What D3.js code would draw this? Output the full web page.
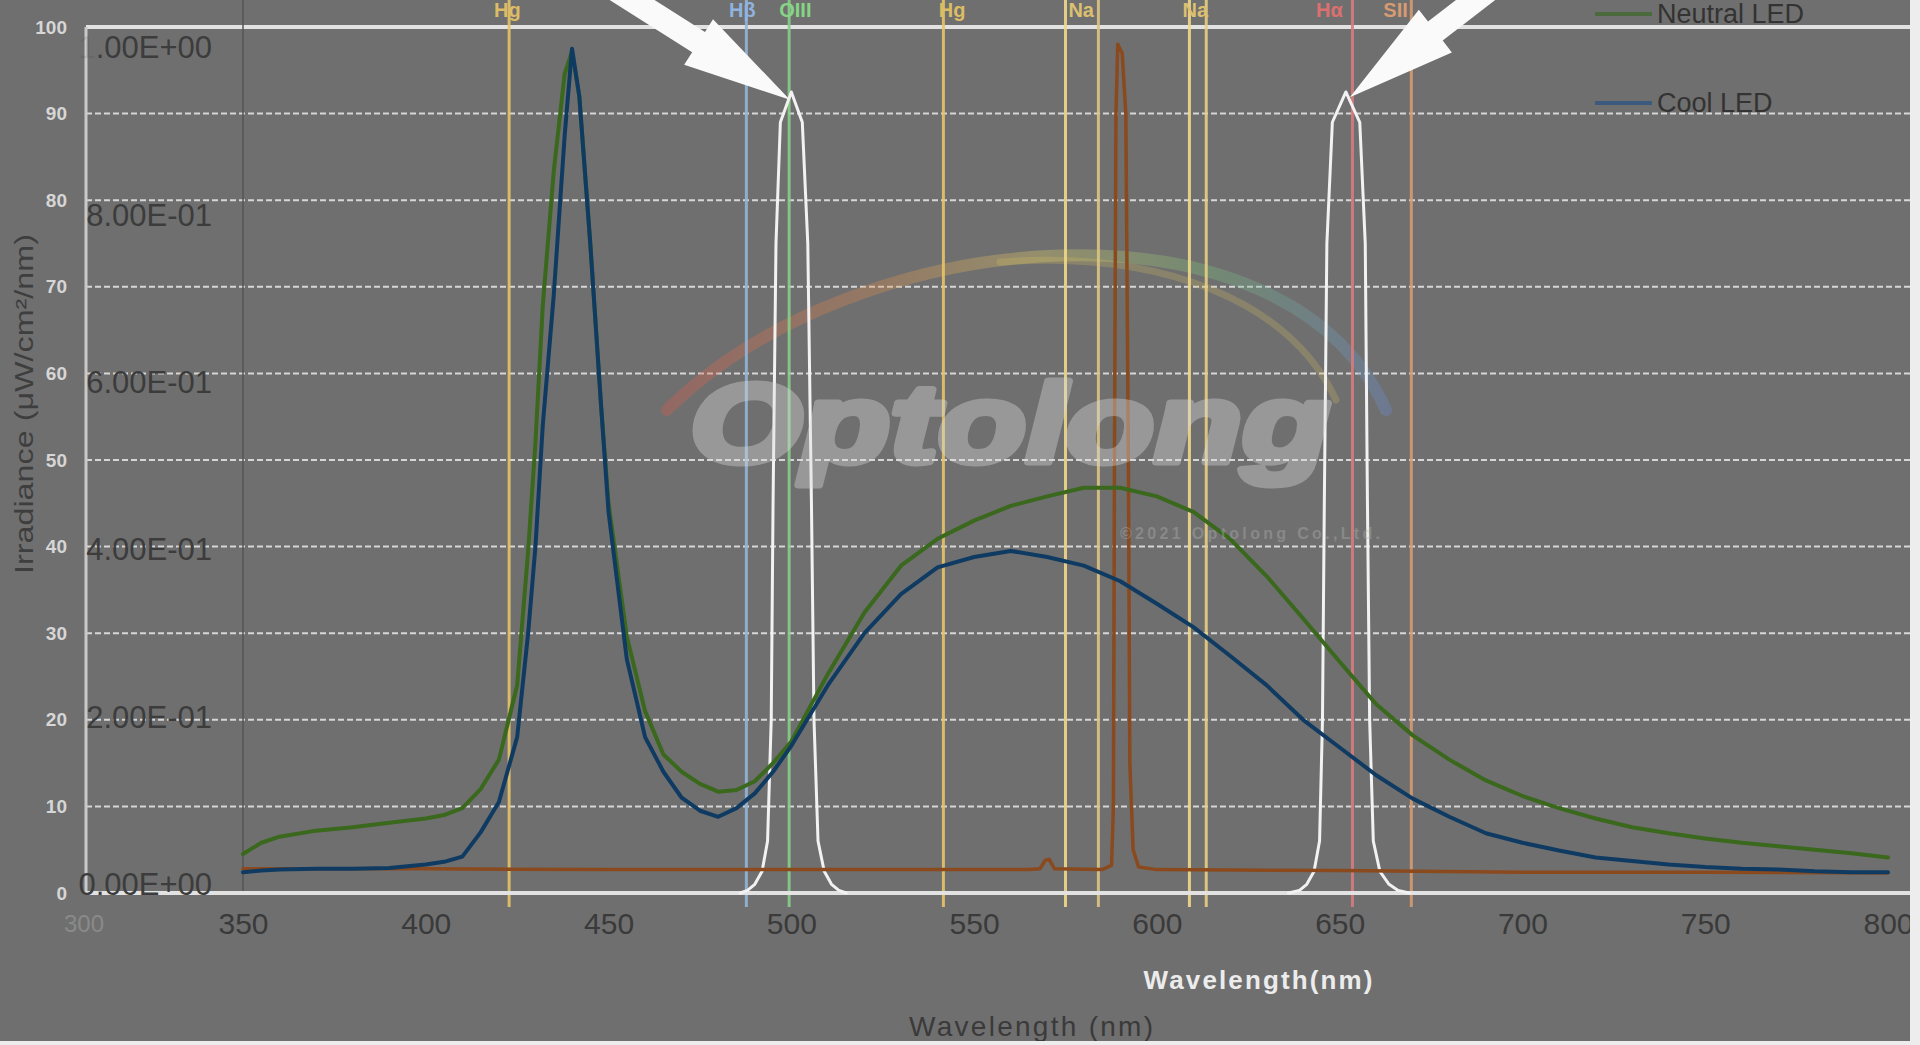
<!DOCTYPE html>
<html>
<head>
<meta charset="utf-8">
<script src="https://cdn.jsdelivr.net/npm/d3@7"></script>
<style>
    body { margin: 0; background: #6f6f6f; }
    svg { display: block; }
    text { font-family: 'Liberation Sans', Arial, sans-serif; }
</style>
</head>
<body>
<div id="chart"></div>
<script>
// spectra (irradiance, 0-100 scale)
var ledNm = [350, 355, 360, 370, 380, 390, 400, 405, 410, 415, 420, 425, 428, 430, 432, 435, 438, 440, 442, 445,
    448, 450, 455, 460, 465, 470, 475, 480, 485, 490, 495, 500, 510, 520, 530, 540, 550, 560, 570, 580,
    590, 600, 610, 620, 630, 640, 650, 660, 670, 680, 690, 700, 710, 720, 730, 740, 750, 760, 770, 780, 790, 800];
var coolLed = [2.4, 2.6, 2.7, 2.8, 2.8, 2.9, 3.3, 3.6, 4.2, 7, 10.5, 18, 30, 40, 54, 69, 87.5, 97.5, 92, 75,
    56, 44, 27, 18, 14, 11, 9.5, 8.8, 9.8, 11.5, 14, 17, 24, 30, 34.5, 37.6, 38.8, 39.5, 38.8, 37.8,
    36, 33.4, 30.7, 27.4, 24, 20, 16.8, 13.6, 10.9, 8.8, 6.9, 5.8, 4.9, 4.1, 3.7, 3.3, 3.0, 2.8, 2.7, 2.5, 2.4, 2.4];
var neutralLed = [4.5, 5.8, 6.5, 7.2, 7.6, 8.1, 8.6, 9, 9.8, 12, 15.4, 24, 39.5, 52, 67.8, 83.3, 94.6, 97.2, 92, 75,
    56, 45, 29.6, 21, 16, 14, 12.6, 11.7, 11.9, 12.9, 15, 17.5, 25.3, 32.4, 37.8, 40.9, 43, 44.7, 45.8, 46.8,
    46.8, 45.8, 44, 40.9, 36.6, 31.7, 26.7, 21.8, 18.2, 15.4, 13, 11.2, 9.8, 8.6, 7.6, 6.9, 6.3, 5.8, 5.4, 5.0, 4.6, 4.1];

// brown lamp trace with the sodium spike
var lampNm = [350, 400, 450, 500, 550, 565, 568, 569.5, 570.5, 572, 585, 587.6, 588.1, 588.4, 588.8, 589.3,
    590.5, 591.5, 592.2, 592.6, 593.5, 595, 600, 650, 700, 750, 800];
var lampVal = [2.8, 2.8, 2.7, 2.7, 2.7, 2.7, 2.8, 3.8, 3.9, 2.8, 2.7, 3.2, 10, 50, 90, 98,
    97, 90, 50, 15, 5, 3, 2.7, 2.6, 2.4, 2.4, 2.3];

// white filter pass bands
var oiiiNm = [486, 488, 490, 492, 493.5, 494.5, 495, 495.8, 497, 500, 503, 504.5, 505.5, 506.2, 507.3, 509, 511, 513, 515];
var oiiiVal = [0, 0.3, 1, 2.5, 6, 20, 45, 75, 89, 92.5, 89, 75, 45, 20, 6, 2.5, 1, 0.3, 0];
var haNm = [636, 639, 641, 643, 644.5, 645.3, 645.8, 646.5, 648, 651.7, 655.5, 657, 657.6, 658.2, 659.2, 661, 663.5, 666, 669];
var haVal = [0, 0.3, 1, 2.5, 6, 20, 45, 75, 89, 92.5, 89, 75, 45, 20, 6, 2.5, 1, 0.3, 0];

// emission line markers
var markerNm = [422.8, 487.7, 499.4, 541.6, 575.0, 584.0, 608.9, 613.5, 653.5, 669.6];
var markerColor = ['#e6c468', '#93b5d8', '#88cf88', '#e6c468', '#f0d88a', '#dcc585', '#f0d88a', '#e8cf82', '#d87c7c', '#d49c72'];
var labelText = ['Hg', 'Hβ', 'OIII', 'Hg', 'Na', 'Na', 'Hα', 'SII'];
var labelNm = [422.3, 486.6, 501.1, 544.0, 579.3, 610.5, 647.2, 665.3];
var labelColor = ['#dcbc64', '#8fb2de', '#86d486', '#dcbc64', '#dcc070', '#dcc070', '#de6f6f', '#d89a70'];

var yTicks = [0, 10, 20, 30, 40, 50, 60, 70, 80, 90, 100];
var xTicks = [350, 400, 450, 500, 550, 600, 650, 700, 750, 800];
var transTicks = [1, 0.8, 0.6, 0.4, 0.2, 0];
var transLabels = ['1.00E+00', '8.00E-01', '6.00E-01', '4.00E-01', '2.00E-01', '0.00E+00'];

var arrowTipNm = [499.6, 652.8];
var arrowTipVal = [91.6, 91.9];
var arrowAngle = [212.3, -37.7];

var legendNames = ['Neutral LED', 'Cool LED'];
var legendColors = ['#4a6a3c', '#3c5a7e'];

var width = 1920;
var height = 1045;
var frame = { left: 86, right: 1910, top: 27, bottom: 893 };

var x = d3.scaleLinear().domain([350, 800]).range([243, 1888]);
var y = d3.scaleLinear().domain([0, 100]).range([frame.bottom, frame.top]);
var yTrans = d3.scaleLinear().domain([0, 1]).range([884, 47]);

var svg = d3.select('#chart')
    .append('svg')
    .attr('width', width)
    .attr('height', height)
    .attr('viewBox', [0, 0, width, height]);

svg.append('rect')
    .attr('width', width).attr('height', height)
    .attr('fill', '#6f6f6f');

// dashed grid
svg.append('g')
    .selectAll('line')
    .data(yTicks.filter(d => d > 0 && d < 100))
    .join('line')
    .attr('x1', frame.left).attr('x2', frame.right)
    .attr('y1', d => y(d)).attr('y2', d => y(d))
    .attr('stroke', '#d6d6d6')
    .attr('stroke-width', 2)
    .attr('stroke-dasharray', '6,3');

// frame of the overlaid filter chart
svg.append('line')
    .attr('x1', frame.left).attr('x2', frame.right)
    .attr('y1', y(100)).attr('y2', y(100))
    .attr('stroke', '#e2e2e2').attr('stroke-width', 4);
svg.append('line')
    .attr('x1', frame.left).attr('x2', frame.left)
    .attr('y1', y(100)).attr('y2', y(0))
    .attr('stroke', '#c9c9c9').attr('stroke-width', 3);

// old axis line at 350
svg.append('line')
    .attr('x1', x(350)).attr('x2', x(350))
    .attr('y1', 0).attr('y2', y(0))
    .attr('stroke', '#555').attr('stroke-width', 1.5);

// watermark, under the traces
var defs = svg.append('defs');
var grad = defs.append('linearGradient')
    .attr('id', 'rainbow')
    .attr('x1', '0%').attr('x2', '100%');
[['0%', '#e05a4a'], ['30%', '#e0904e'], ['52%', '#e6d268'], ['75%', '#7cc47a'], ['100%', '#6a8ed6']]
    .forEach(s => grad.append('stop').attr('offset', s[0]).attr('stop-color', s[1]));

svg.append('path')
    .attr('d', 'M667,410 C857,222 1286,186 1386,410')
    .attr('fill', 'none')
    .attr('stroke', 'url(#rainbow)')
    .attr('stroke-width', 12)
    .attr('stroke-linecap', 'round')
    .attr('opacity', 0.32);
svg.append('path')
    .attr('d', 'M1000,262 C1160,250 1290,300 1336,400')
    .attr('fill', 'none')
    .attr('stroke', '#d8c060')
    .attr('stroke-width', 7)
    .attr('stroke-linecap', 'round')
    .attr('opacity', 0.25);

// emission lines
svg.append('g')
    .selectAll('line')
    .data(markerNm)
    .join('line')
    .attr('x1', d => x(d)).attr('x2', d => x(d))
    .attr('y1', 0).attr('y2', y(0) + 14)
    .attr('stroke', (d, i) => markerColor[i])
    .attr('stroke-width', 3)
    .attr('opacity', 0.9);

svg.append('g')
    .selectAll('text')
    .data(labelText)
    .join('text')
    .attr('x', (d, i) => x(labelNm[i]))
    .attr('y', 17)
    .attr('text-anchor', 'middle')
    .attr('font-size', 20)
    .attr('font-weight', 'bold')
    .attr('fill', (d, i) => labelColor[i])
    .text(d => d);

var line = d3.line()
    .x(d => x(d[0]))
    .y(d => y(d[1]));

function trace(nm, vals, color, w) {
    svg.append('path')
        .datum(d3.zip(nm, vals))
        .attr('fill', 'none')
        .attr('stroke', color)
        .attr('stroke-width', w)
        .attr('stroke-linejoin', 'round')
        .attr('stroke-linecap', 'round')
        .attr('d', line);
}

// bottom white line (filter baseline)
svg.append('line')
    .attr('x1', frame.left).attr('x2', frame.right)
    .attr('y1', y(0)).attr('y2', y(0))
    .attr('stroke', '#e2e2e2').attr('stroke-width', 4);

trace(oiiiNm, oiiiVal, '#f2f2f2', 3);
trace(haNm, haVal, '#f2f2f2', 3);
trace(lampNm, lampVal, '#8a4a1e', 3.5);
trace(ledNm, neutralLed, '#3a681c', 4);
trace(ledNm, coolLed, '#0f3b63', 4);

// watermark lettering, semi transparent over the traces
svg.append('text')
    .attr('x', 690).attr('y', 462)
    .attr('font-size', 112)
    .attr('font-weight', 'bold')
    .attr('font-style', 'italic')
    .attr('textLength', 640)
    .attr('lengthAdjust', 'spacingAndGlyphs')
    .attr('fill', '#dcdcdc')
    .attr('stroke', '#dcdcdc')
    .attr('stroke-width', 7)
    .attr('stroke-linejoin', 'round')
    .attr('opacity', 0.38)
    .text('Optolong');

svg.append('text')
    .attr('x', 1120).attr('y', 539)
    .attr('font-size', 16)
    .attr('font-weight', 'bold')
    .attr('textLength', 260)
    .attr('fill', '#b0b0b0')
    .attr('opacity', 0.4)
    .text('©2021 Optolong Co.,Ltd.');

// arrows
function arrow(i) {
    var a = arrowAngle[i] * Math.PI / 180;
    var d = [Math.cos(a), Math.sin(a)];
    var p = [-d[1], d[0]];
    var t = [x(arrowTipNm[i]), y(arrowTipVal[i])];
    var b = [t[0] + 108 * d[0], t[1] + 108 * d[1]];
    var c = [b[0] + 170 * d[0], b[1] + 170 * d[1]];
    var pt = (o, k) => [o[0] + k * p[0], o[1] + k * p[1]];
    return [t, pt(b, 27), pt(b, 12), pt(c, 12), pt(c, -12), pt(b, -12), pt(b, -27)];
}
svg.append('g')
    .selectAll('path')
    .data(arrowTipNm.map((d, i) => arrow(i)))
    .join('path')
    .attr('d', d => d3.line()(d) + 'Z')
    .attr('fill', '#fafafa');

// y axis (0-100)
var yAxis = g => g
    .attr('transform', 'translate(67,0)')
    .call(d3.axisLeft(y).tickValues(yTicks).tickSize(0).tickPadding(0))
    .call(g => g.select('.domain').remove())
    .call(g => g.selectAll('text')
        .attr('font-size', 19)
        .attr('font-weight', 'bold')
        .attr('font-family', "'Liberation Sans', Arial, sans-serif")
        .attr('fill', '#d6d6d6'));
svg.append('g').call(yAxis);

// transmission labels of the overlay
svg.append('g')
    .selectAll('text')
    .data(transTicks)
    .join('text')
    .attr('x', 212)
    .attr('y', d => yTrans(d))
    .attr('dy', '0.36em')
    .attr('text-anchor', 'end')
    .attr('font-size', 31)
    .attr('fill', '#3c3c3c')
    .each(function (d, i) {
        var s = transLabels[i];
        if (i === 0) {
            d3.select(this).append('tspan').attr('fill-opacity', 0.15).text(s[0]);
            d3.select(this).append('tspan').text(s.slice(1));
        } else {
            d3.select(this).text(s);
        }
    });

// x axis labels
var xAxis = g => g
    .attr('transform', `translate(0,${y(0)})`)
    .call(d3.axisBottom(x).tickValues(xTicks).tickSize(0).tickPadding(20))
    .call(g => g.select('.domain').remove())
    .call(g => g.selectAll('text')
        .attr('font-size', 30)
        .attr('font-family', "'Liberation Sans', Arial, sans-serif")
        .attr('fill', '#3a3a3a'));
svg.append('g').call(xAxis);

svg.append('text')
    .attr('x', 84).attr('y', 932)
    .attr('text-anchor', 'middle')
    .attr('font-size', 24)
    .attr('fill', '#8a8a8a')
    .text('300');

svg.append('text')
    .attr('x', 1258).attr('y', 989)
    .attr('text-anchor', 'middle')
    .attr('font-size', 26)
    .attr('font-weight', 'bold')
    .attr('textLength', 229)
    .attr('fill', '#ececec')
    .text('Wavelength(nm)');

svg.append('text')
    .attr('x', 1031).attr('y', 1036)
    .attr('text-anchor', 'middle')
    .attr('font-size', 28)
    .attr('textLength', 244)
    .attr('fill', '#3a3a3a')
    .text('Wavelength (nm)');

svg.append('text')
    .attr('transform', 'translate(33,404) rotate(-90)')
    .attr('text-anchor', 'middle')
    .attr('font-size', 26)
    .attr('textLength', 340)
    .attr('lengthAdjust', 'spacingAndGlyphs')
    .attr('fill', '#3e3e3e')
    .text('Irradiance (μW/cm²/nm)');

// legend
var legend = svg.append('g')
    .selectAll('g')
    .data(legendNames)
    .join('g')
    .attr('transform', (d, i) => `translate(1595,${[14, 103][i]})`);
legend.append('line')
    .attr('x1', 0).attr('x2', 57)
    .attr('stroke', (d, i) => legendColors[i])
    .attr('stroke-width', 4);
legend.append('text')
    .attr('x', 62)
    .attr('dy', '0.35em')
    .attr('font-size', 27)
    .attr('fill', '#333')
    .text(d => d);

// pale edges of the scan
svg.append('rect')
    .attr('x', 1910).attr('y', 0).attr('width', 10).attr('height', height)
    .attr('fill', '#ededed');
svg.append('rect')
    .attr('x', 0).attr('y', 1041).attr('width', width).attr('height', 4)
    .attr('fill', '#ededed');
</script>
</body>
</html>
